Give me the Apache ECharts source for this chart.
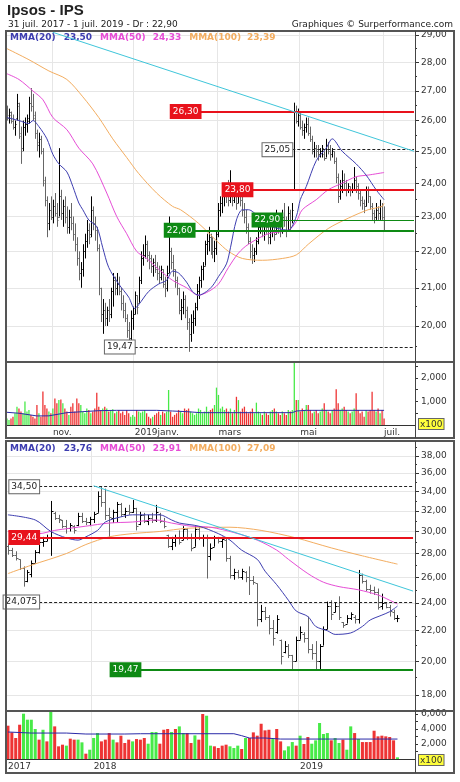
<!DOCTYPE html>
<html>
<head>
<meta charset="utf-8">
<title>Ipsos - IPS</title>
<script src="https://cdn.jsdelivr.net/npm/echarts@6.0.0/dist/echarts.min.js"></script>
<style>
  html, body { margin: 0; padding: 0; background: #fff; }
  #main { width: 460px; height: 782px; }
</style>
</head>
<body>
<div id="main"></div>
<script>
// ---------- graphique journalier (haut) ----------
var dayStart = '2018-10-01'
var dayHolidays = ['2018-12-25', '2018-12-26', '2019-01-01', '2019-04-19', '2019-04-22', '2019-05-01']
var dayCount = 190
var dayPad = 15

var dOpen = [
  26.3, 26.1, 26.2, 26.0, 25.8, 26.1, 26.5, 25.6, 25.1, 25.8,
  25.9, 26.0, 26.6, 26.5, 26.2, 25.6, 25.2, 25.4, 25.0, 24.0,
  23.5, 22.8, 23.2, 23.0, 23.3, 23.1, 23.0, 23.6, 23.1, 23.3,
  23.0, 22.7, 23.0, 22.8, 22.5, 22.2, 21.8, 21.4, 21.5, 22.0,
  22.3, 22.6, 22.5, 23.2, 22.8, 22.6, 22.1, 21.0, 20.3, 20.4,
  20.2, 20.4, 20.3, 20.9, 21.2, 21.0, 21.1, 20.9, 20.6, 20.4,
  20.2, 19.9, 19.7, 20.2, 20.3, 20.8, 20.6, 21.2, 21.8, 21.9,
  22.2, 21.9, 21.8, 21.6, 21.7, 21.5, 21.4, 21.3, 21.5, 21.1,
  21.0, 21.4, 22.0, 21.7, 21.5, 21.2, 21.0, 20.4, 20.5, 20.7,
  20.4, 20.1, 19.8, 20.1, 20.2, 20.5, 20.9, 21.2, 21.5, 21.6,
  22.2, 22.3, 22.4, 22.2, 22.0, 22.1, 22.5, 23.2, 23.4, 23.6,
  23.8, 23.6, 23.5, 23.9, 23.5, 23.7, 23.4, 23.8, 23.5, 23.2,
  23.0, 22.7, 22.3, 22.0, 21.9, 22.0, 22.3, 22.7, 22.9, 22.6,
  22.8, 22.7, 22.4, 22.6, 22.8, 22.5, 23.0, 22.7, 22.6, 23.0,
  22.9, 22.6, 23.1, 22.9, 23.8, 26.3, 26.0, 26.2, 25.8, 25.7,
  25.8, 25.9, 25.6, 25.4, 25.0, 25.1, 25.0, 24.9, 25.0, 24.9,
  24.8, 25.2, 25.0, 24.9, 25.0, 24.7, 24.2, 23.6, 23.9, 24.1,
  24.0, 23.8, 23.9, 23.8, 23.8, 24.1, 23.9, 23.7, 23.5, 23.4,
  23.3, 23.8, 23.6, 23.3, 23.1, 23.0, 23.2, 23.1, 23.3, 23.0
]
var dHigh = [
  26.5, 26.4, 26.3, 26.2, 26.0, 26.9, 26.6, 25.8, 26.0, 26.1,
  26.2, 26.8, 27.1, 26.9, 26.3, 25.7, 25.6, 25.5, 25.1, 24.2,
  23.6, 23.4, 23.6, 23.5, 23.7, 23.4, 25.1, 23.8, 23.5, 23.6,
  23.3, 23.2, 23.4, 23.0, 22.8, 22.4, 22.0, 21.7, 22.2, 22.5,
  22.9, 22.8, 23.6, 23.3, 23.0, 22.7, 22.2, 21.0, 20.7, 20.6,
  20.5, 20.7, 21.0, 21.4, 21.3, 21.4, 21.3, 21.0, 20.8, 20.6,
  20.3, 20.1, 20.4, 20.5, 20.9, 20.8, 21.3, 22.0, 22.2, 22.45,
  22.3, 22.0, 21.9, 21.8, 21.9, 21.7, 21.6, 21.6, 21.5, 21.3,
  21.6, 23.0, 22.1, 21.9, 21.5, 21.3, 21.0, 20.7, 20.9, 20.8,
  20.5, 20.2, 20.3, 20.4, 20.6, 21.1, 21.3, 21.6, 21.7, 22.3,
  22.5, 22.7, 22.5, 22.4, 22.3, 22.6, 23.4, 23.6, 23.8, 24.0,
  23.9, 24.1, 24.4, 24.0, 23.9, 23.8, 24.0, 23.9, 23.6, 23.4,
  23.2, 22.8, 22.4, 22.2, 22.1, 22.4, 22.8, 23.1, 23.0, 22.9,
  23.1, 22.9, 22.8, 23.0, 22.9, 23.2, 23.1, 22.9, 23.2, 23.4,
  23.0, 23.3, 23.2, 23.4, 26.6, 26.5, 26.4, 26.3, 26.0, 25.9,
  26.1, 26.1, 25.8, 25.5, 25.3, 25.2, 25.2, 25.1, 25.2, 25.0,
  25.4, 25.3, 25.2, 25.1, 25.0, 24.8, 24.3, 24.1, 24.4, 24.3,
  24.1, 24.0, 23.9, 24.0, 24.5, 24.2, 24.0, 23.8, 23.6, 23.5,
  23.9, 23.9, 23.6, 23.4, 23.2, 23.4, 23.3, 23.5, 23.4, 23.3
]
var dLow = [
  26.0, 25.9, 25.9, 25.7, 25.5, 26.0, 25.4, 24.6, 25.0, 25.5,
  25.6, 25.9, 26.3, 26.0, 25.4, 25.0, 24.8, 24.9, 23.9, 23.3,
  22.4, 22.6, 22.9, 22.8, 23.0, 22.7, 23.0, 22.9, 22.7, 22.8,
  22.5, 22.5, 22.6, 22.3, 22.0, 21.6, 21.2, 21.0, 21.3, 21.8,
  22.1, 22.2, 22.4, 22.6, 22.3, 22.0, 20.8, 20.1, 19.8, 20.0,
  20.0, 20.1, 20.2, 20.5, 20.8, 20.8, 20.8, 20.4, 20.2, 20.1,
  19.7, 19.47, 19.6, 19.9, 20.3, 20.3, 20.6, 21.1, 21.6, 21.8,
  21.7, 21.5, 21.4, 21.3, 21.4, 21.2, 21.1, 21.2, 21.0, 20.75,
  20.9, 21.4, 21.5, 21.3, 21.0, 20.8, 20.3, 20.15, 20.3, 20.2,
  19.9, 19.35, 19.6, 19.8, 20.0, 20.4, 20.7, 21.0, 21.2, 21.6,
  21.9, 22.0, 21.9, 21.8, 21.7, 21.9, 22.4, 23.0, 23.1, 23.3,
  23.4, 23.3, 23.4, 23.3, 23.4, 23.2, 23.4, 23.3, 23.0, 22.8,
  22.5, 22.2, 21.8, 21.65, 21.7, 21.9, 22.2, 22.5, 22.4, 22.3,
  22.5, 22.2, 22.2, 22.4, 22.3, 22.5, 22.5, 22.4, 22.5, 22.7,
  22.4, 22.6, 22.6, 22.8, 23.8, 25.9, 25.8, 25.7, 25.5, 25.4,
  25.6, 25.5, 25.3, 24.9, 24.8, 24.8, 24.7, 24.8, 24.8, 24.7,
  24.8, 24.9, 24.7, 24.8, 24.6, 24.0, 23.4, 23.5, 23.7, 23.8,
  23.6, 23.7, 23.6, 23.7, 23.8, 23.7, 23.5, 23.3, 23.2, 23.1,
  23.3, 23.4, 23.2, 22.9, 22.8, 22.9, 22.9, 22.9, 22.9, 22.6
]
var dClose = [
  26.2, 26.3, 26.0, 25.8, 25.9, 26.6, 25.5, 25.0, 25.8, 25.9,
  26.1, 26.6, 26.5, 26.1, 25.6, 25.3, 25.4, 25.0, 24.1, 23.5,
  22.8, 23.2, 23.0, 23.3, 23.1, 22.9, 23.6, 23.1, 23.3, 23.0,
  22.7, 23.0, 22.8, 22.5, 22.2, 21.8, 21.4, 21.5, 22.0, 22.3,
  22.6, 22.4, 23.2, 22.8, 22.6, 22.1, 21.0, 20.3, 20.4, 20.2,
  20.4, 20.3, 20.9, 21.2, 21.0, 21.1, 20.9, 20.6, 20.4, 20.2,
  19.9, 19.7, 20.2, 20.3, 20.8, 20.5, 21.2, 21.8, 21.9, 22.2,
  21.9, 21.8, 21.6, 21.7, 21.5, 21.4, 21.3, 21.5, 21.1, 21.0,
  21.4, 22.0, 21.7, 21.5, 21.2, 21.0, 20.4, 20.5, 20.7, 20.4,
  20.1, 19.8, 20.1, 20.2, 20.5, 20.9, 21.2, 21.5, 21.6, 22.2,
  22.3, 22.4, 22.2, 22.0, 22.1, 22.5, 23.2, 23.4, 23.6, 23.8,
  23.6, 23.5, 23.9, 23.5, 23.7, 23.4, 23.8, 23.5, 23.2, 23.0,
  22.7, 22.3, 22.0, 21.9, 22.0, 22.3, 22.7, 22.9, 22.6, 22.8,
  22.7, 22.4, 22.6, 22.8, 22.5, 23.0, 22.7, 22.6, 23.0, 22.9,
  22.6, 23.1, 22.9, 23.2, 26.3, 26.0, 26.2, 25.8, 25.7, 25.8,
  25.9, 25.6, 25.4, 25.0, 25.1, 25.0, 24.9, 25.0, 25.1, 24.8,
  25.2, 25.0, 24.9, 25.0, 24.7, 24.2, 23.6, 23.9, 24.1, 24.0,
  23.8, 23.9, 23.8, 23.8, 24.1, 23.9, 23.7, 23.5, 23.4, 23.3,
  23.8, 23.6, 23.3, 23.1, 23.0, 23.2, 23.1, 23.3, 23.0, 22.9
]
// volumes journaliers (x100)
var dVolume = [
  280, 210, 280, 350, 500, 780, 700, 570, 500, 1000,
  570, 640, 430, 350, 280, 850, 500, 350, 1420, 850,
  700, 570, 500, 700, 1130, 920, 1060, 1090, 920, 700,
  570, 430, 780, 920, 570, 1130, 920, 850, 570, 500,
  700, 640, 500, 570, 700, 1375, 780, 640, 700, 780,
  700, 570, 640, 670, 500, 570, 640, 500, 570, 430,
  640, 500, 350, 430, 350, 640, 570, 520, 570, 640,
  500, 350, 280, 350, 430, 500, 570, 430, 570, 500,
  570, 1490, 570, 350, 430, 500, 640, 570, 500, 700,
  640, 700, 570, 500, 430, 500, 700, 640, 500, 570,
  780, 570, 640, 700, 850, 1590, 1280, 700, 780, 640,
  700, 570, 700, 500, 640, 1200, 1060, 570, 700, 780,
  570, 500, 570, 700, 500, 950, 570, 500, 430, 570,
  500, 430, 570, 640, 700, 570, 500, 430, 570, 500,
  430, 640, 570, 640, 2666, 1060, 1060, 570, 700, 640,
  850, 850, 640, 500, 570, 640, 500, 570, 700, 920,
  640, 570, 500, 640, 700, 1517, 920, 640, 700, 780,
  640, 570, 500, 570, 700, 1347, 640, 500, 570, 350,
  640, 570, 640, 1418, 640, 570, 700, 500, 640, 280
]
var dVolMa = [[0, 540], [6, 500], [15, 385], [21, 390], [30, 525], [38, 567], [46, 610], [55, 624], [75, 624],
  [83, 595], [90, 567], [97, 525], [143, 525], [145, 595], [150, 624], [189, 624]]
var dMma20 = [[0, 26.1], [6, 26.0], [11, 25.9], [13, 26.0], [16, 25.8], [20, 25.4], [23, 24.9], [26, 24.6],
  [30, 24.35], [33, 23.9], [36, 23.4], [38, 23.2], [41, 22.9], [45, 22.7], [48, 22.1], [51, 21.55], [56, 21.1],
  [61, 20.75], [64, 20.45], [66, 20.55], [71, 20.9], [76, 21.1], [80, 21.2], [83, 21.45], [86, 21.4], [90, 21.15],
  [93, 20.9], [96, 20.8], [100, 20.9], [103, 21.05], [106, 21.3], [110, 21.65], [112, 22.1], [115, 22.9],
  [118, 23.2], [121, 23.2], [126, 23.0], [131, 22.75], [136, 22.65], [141, 22.6], [145, 23.0], [147, 23.5],
  [150, 23.9], [155, 24.7], [160, 25.1], [163, 25.4], [168, 25.0], [175, 24.6], [180, 24.25], [185, 23.8], [189, 23.5]]
var dMma50 = [[0, 27.6], [6, 27.4], [13, 27.0], [18, 26.7], [23, 26.1], [30, 25.7], [36, 25.1], [43, 24.6],
  [50, 23.7], [55, 23.0], [60, 22.5], [65, 22.0], [70, 21.8], [76, 21.5], [83, 21.2], [90, 21.0], [96, 20.8],
  [101, 20.9], [106, 21.1], [111, 21.55], [116, 21.95], [121, 22.2], [131, 22.5], [141, 22.6], [145, 22.85],
  [148, 23.2], [155, 23.5], [161, 23.8], [168, 24.0], [175, 24.2], [181, 24.25], [189, 24.33]]
var dMma100 = [[0, 28.5], [11, 28.1], [21, 27.7], [30, 27.4], [38, 26.8], [46, 26.1], [53, 25.4], [60, 24.8],
  [66, 24.3], [75, 23.7], [83, 23.3], [87, 23.2], [96, 22.8], [105, 22.3], [111, 22.0], [118, 21.8], [128, 21.75],
  [138, 21.8], [145, 21.9], [151, 22.2], [161, 22.65], [171, 22.95], [181, 23.2], [188, 23.3], [189, 23.39]]
var dTrend = [[23, 29.1], [204, 25.0]]
var dLevelValues = [26.30, 23.80, 22.60, 22.90, 25.05, 19.47]
var dLevelStart = [97, 123, 94, 138, 143, 64]
var dPriceLabels = [20, 21, 22, 23, 24, 25, 26, 27, 28, 29]
var dPriceMinor = [19.5, 20.5, 21.5, 22.5, 23.5, 24.5, 25.5, 26.5, 27.5, 28.5]
var dVolLabels = [1000, 2000]
var dVolTicks = [500, 1000, 1500, 2000, 2500]

// ---------- graphique hebdomadaire (bas) ----------
var weekStart = '2017-07-31'
var weekCount = 101
var weekPad = 4

var wOpen = [
  28.7, 28.3, 27.9, 27.5, 26.8, 25.7, 26.3, 27.2, 28.1, 29.0,
  29.1, 29.5, 31.8, 31.3, 31.1, 30.5, 30.3, 30.5, 30.6, 31.5,
  31.0, 30.9, 31.2, 31.8, 33.5, 32.9, 31.6, 31.3, 31.9, 32.7,
  31.7, 32.0, 31.9, 32.3, 30.7, 31.6, 31.0, 31.3, 31.1, 31.7,
  31.0, 29.7, 28.7, 29.0, 29.4, 29.2, 30.2, 29.5, 28.6, 30.2,
  29.4, 29.4, 27.8, 28.6, 29.4, 29.1, 29.2, 27.6, 26.2, 26.4,
  26.0, 26.4, 26.0, 25.8, 25.5, 22.8, 23.4, 23.0, 22.2, 21.9,
  21.4, 20.6, 21.0, 20.4, 20.0, 21.4, 21.8, 21.5, 20.8, 20.5,
  20.0, 21.0, 22.1, 23.8, 23.3, 23.8, 22.6, 22.5, 22.9, 23.0,
  22.8, 26.2, 25.7, 25.1, 25.0, 24.8, 23.8, 24.0, 23.7, 23.3,
  22.9
]
var wHigh = [
  28.9, 28.5, 28.2, 27.5, 26.9, 26.6, 27.4, 28.3, 29.2, 29.5,
  29.7, 33.0, 31.9, 31.6, 31.1, 31.1, 30.8, 30.6, 31.8, 31.8,
  31.3, 31.4, 31.9, 34.0, 34.5, 34.3, 32.3, 32.1, 32.9, 32.8,
  32.3, 32.6, 33.1, 32.3, 31.9, 31.8, 31.6, 31.8, 32.6, 31.8,
  31.3, 29.7, 29.5, 29.7, 30.1, 30.5, 30.3, 29.8, 30.5, 30.5,
  29.7, 29.7, 28.9, 29.6, 29.5, 29.5, 29.4, 27.8, 26.7, 26.6,
  26.7, 26.5, 26.9, 26.1, 25.5, 23.85, 23.7, 23.1, 22.75, 23.1,
  21.4, 21.3, 21.1, 20.4, 21.6, 22.3, 21.9, 23.0, 21.1, 21.3,
  21.1, 22.3, 24.1, 24.2, 24.0, 24.5, 22.6, 23.1, 23.3, 23.1,
  26.6, 26.3, 25.8, 25.4, 25.25, 25.1, 24.7, 24.0, 23.85, 23.5,
  23.1
]
var wLow = [
  27.9, 27.7, 27.4, 26.6, 25.25, 25.6, 26.0, 27.2, 28.0, 28.6,
  29.1, 27.8, 31.1, 30.8, 30.3, 29.8, 30.0, 29.8, 30.5, 30.8,
  30.6, 30.5, 30.8, 31.8, 32.4, 31.1, 29.44, 30.8, 30.9, 31.4,
  31.3, 31.6, 31.8, 30.1, 30.6, 30.8, 30.6, 30.8, 30.9, 30.8,
  30.3, 28.5, 28.3, 28.6, 28.8, 29.2, 29.2, 28.2, 28.6, 29.2,
  28.6, 25.9, 27.4, 28.6, 28.9, 28.5, 27.3, 25.9, 25.8, 25.9,
  25.8, 25.6, 24.6, 25.4, 22.3, 22.6, 22.75, 21.75, 21.0, 21.8,
  19.8, 20.5, 20.2, 19.47, 20.0, 21.4, 21.2, 20.5, 20.1, 19.4,
  19.5, 21.0, 22.1, 22.75, 23.3, 22.75, 22.2, 22.5, 22.75, 22.5,
  22.5, 25.5, 24.9, 24.7, 24.6, 23.5, 23.5, 23.6, 23.0, 22.75,
  22.6
]
var wClose = [
  28.3, 27.9, 27.6, 26.8, 25.7, 26.4, 27.2, 28.1, 29.0, 29.1,
  29.5, 32.0, 31.3, 31.2, 30.5, 30.3, 30.6, 30.1, 31.5, 31.0,
  30.9, 31.2, 31.7, 33.5, 32.9, 31.6, 31.4, 31.9, 32.7, 31.7,
  32.0, 31.9, 32.3, 30.5, 31.6, 31.0, 31.3, 31.1, 31.9, 31.0,
  30.5, 28.7, 29.0, 29.4, 29.0, 30.2, 29.5, 28.5, 30.2, 29.4,
  29.4, 27.8, 28.5, 29.4, 29.1, 29.3, 27.6, 26.2, 26.4, 26.0,
  26.5, 26.0, 25.8, 25.6, 22.8, 23.4, 23.0, 22.2, 21.5, 22.8,
  20.3, 21.0, 20.4, 20.0, 21.4, 21.9, 21.5, 20.8, 20.5, 20.0,
  21.0, 22.1, 23.8, 23.2, 23.8, 23.0, 22.4, 22.9, 23.2, 22.8,
  26.2, 25.7, 25.1, 25.0, 24.8, 23.7, 24.0, 23.7, 23.4, 22.9,
  22.9
]
// volumes hebdo (x100) et sens de la semaine (1 = hausse)
var wVolume = [
  4440, 3550, 2800, 4570, 6040, 5240, 5240, 4000, 2580, 3900,
  2350, 6350, 4350, 1690, 1910, 1780, 2710, 2580, 2580, 2220,
  710, 1240, 2800, 3460, 2350, 2580, 3460, 2580, 2220, 3110,
  2130, 2580, 2350, 2660, 2580, 2800, 2040, 3600, 3600, 2040,
  3900, 4000, 3600, 4000, 4350, 3460, 3460, 2130, 3150, 2580,
  6000, 5770, 1780, 1690, 1470, 1780, 1910, 1690, 1470, 1780,
  1330, 2800, 2800, 3550, 3110, 4700, 3820, 3900, 2660, 4000,
  2350, 1150, 1690, 2260, 1780, 3110, 2000, 2930, 2040, 2490,
  4800, 3330, 3460, 2490, 2800, 2130, 2580, 1240, 4350, 3460,
  2660, 2260, 2260, 2260, 3770, 3020, 3110, 3020, 2930, 2490,
  220
]
var wVolUp = [
  0, 0, 0, 0, 1, 1, 1, 1, 0, 1,
  0, 1, 0, 0, 0, 1, 0, 0, 1, 1,
  0, 1, 1, 1, 0, 0, 0, 1, 0, 0,
  0, 0, 1, 0, 0, 0, 1, 1, 1, 0,
  0, 0, 1, 0, 1, 1, 0, 0, 1, 0,
  0, 1, 1, 0, 0, 0, 0, 1, 1, 1,
  0, 1, 0, 0, 0, 0, 0, 0, 1, 0,
  0, 1, 1, 1, 0, 1, 0, 0, 1, 1,
  1, 1, 1, 0, 1, 1, 0, 1, 1, 0,
  1, 0, 0, 0, 0, 0, 0, 0, 0, 0,
  1
]
var wVolMa = [[0, 3600], [6, 3460], [15, 3460], [20, 3330], [30, 3330], [34, 3370], [58, 3370], [60, 3110],
  [62, 2800], [66, 2800], [70, 2660], [100, 2660]]
var wMma20 = [[0, 31.6], [7, 31.1], [11, 30.0], [15, 29.4], [18, 29.2], [20, 29.5], [23, 30.1], [25, 30.9],
  [29, 31.4], [32, 31.6], [39, 31.6], [42, 31.1], [44, 30.8], [49, 30.5], [54, 29.8], [57, 29.2], [60, 28.3],
  [64, 27.5], [66, 26.5], [69, 25.4], [72, 24.2], [74, 23.4], [77, 23.0], [79, 22.3], [82, 22.0], [84, 21.75],
  [88, 21.85], [91, 22.3], [93, 22.75], [96, 23.1], [98, 23.35], [100, 23.76]]
var wMma50 = [[0, 30.0], [8, 29.8], [12, 30.1], [20, 30.5], [26, 30.8], [32, 30.9], [38, 31.1], [42, 30.8],
  [47, 30.5], [52, 30.4], [58, 29.9], [64, 29.2], [69, 28.3], [72, 27.5], [77, 26.3], [81, 25.6], [85, 25.25],
  [90, 25.0], [95, 24.6], [98, 24.2], [100, 23.91]]
var wMma100 = [[0, 26.3], [6, 27.0], [15, 28.0], [20, 28.8], [26, 29.5], [32, 29.8], [39, 30.0], [46, 30.3],
  [57, 30.4], [65, 30.1], [74, 29.4], [83, 28.5], [91, 27.8], [100, 27.09]]
var wTrend = [[22, 34.6], [104, 24.9]]
var wLevelValues = [29.44, 34.50, 24.075, 19.47]
var wLevelStart = [8, 8, 8, 34]
var wPriceLabels = [18, 20, 22, 24, 26, 28, 30, 32, 34, 36, 38]
var wPriceMinor = [19, 21, 23, 25, 27, 29, 31, 33, 35, 37, 39]
var wVolLabels = [2000, 4000, 6000]
var wVolTicks = [1000, 2000, 3000, 4000, 5000, 6000]

// ---------- styles ----------
var fontFam = '"DejaVu Sans", Verdana, sans-serif'
var c20 = '#3d3db0', c50 = '#e64dd6', c100 = '#f3ad60', cTrend = '#3fc6da'
var cRed = '#e8121c', cGreen = '#0e8a14'
var cVolUp = '#48ea48', cVolDown = '#ee3434'
var gridColor = '#e6e6e6', axisColor = '#333'
var moisFr = ['janv.', 'févr.', 'mars', 'avr.', 'mai', 'juin', 'juil.', 'août', 'sept.', 'oct.', 'nov.', 'déc.']

function fr(v) {
  var s = Math.abs(v * 100 - Math.round(v * 100)) < 1e-6 ? v.toFixed(2) : v.toFixed(3)
  return s.replace('.', ',')
}

// jours de bourse / semaines
function tradingDays(start, count, holidays) {
  var out = []
  var d = new Date(start + 'T00:00:00Z')
  while (out.length < count) {
    var s = d.toISOString().slice(0, 10)
    var wd = d.getUTCDay()
    if (wd !== 0 && wd !== 6 && holidays.indexOf(s) < 0) out.push(s)
    d.setUTCDate(d.getUTCDate() + 1)
  }
  return out
}
function weeks(start, count) {
  var out = []
  var d = new Date(start + 'T00:00:00Z')
  for (var k = 0; k < count; k++) {
    out.push(d.toISOString().slice(0, 10))
    d.setUTCDate(d.getUTCDate() + 7)
  }
  return out
}
var dCats = tradingDays(dayStart, dayCount, dayHolidays)
var wCats = weeks(weekStart, weekCount)

// un libellé tous les deux mois (nov., janv., mars...)
var dLabelAt = dCats.map(function (s, k) {
  var m = +s.slice(5, 7) - 1
  var prev = k > 0 ? +dCats[k - 1].slice(5, 7) - 1 : -1
  return m !== prev && m % 2 === 0 && k > 0
})
var wLabelAt = wCats.map(function (s, k) {
  return k === 0 || s.slice(0, 4) !== wCats[k - 1].slice(0, 4)
})
for (var p = 0; p < dayPad; p++) { dCats.push('pad' + p); dLabelAt.push(false) }
for (var q = 0; q < weekPad; q++) { wCats.push('pad' + q); wLabelAt.push(false) }

function dInterval(index) { return !!dLabelAt[index] }
function wInterval(index) { return !!wLabelAt[index] }
function dLabel(value) {
  var m = +value.slice(5, 7) - 1
  return m === 0 ? value.slice(0, 4) + 'janv.' : moisFr[m]
}
function wLabel(value) { return value.slice(0, 4) }

function ohlc(open, high, low, close) {
  return open.map(function (o, k) { return [k, o, high[k], low[k], close[k]] })
}

// barre OHLC : trait haut-bas, tiret gauche = ouverture, tiret droit = cloture
function ohlcBar(params, api) {
  var i = api.value(0)
  var o = api.coord([i, api.value(1)])
  var h = api.coord([i, api.value(2)])
  var l = api.coord([i, api.value(3)])
  var c = api.coord([i, api.value(4)])
  var nx = api.coord([i + 1, api.value(4)])
  var half = Math.max(1, Math.round((nx[0] - c[0]) * 0.45))
  var x = Math.round(c[0]) + 0.5
  var col = api.value(4) >= api.value(1) ? '#000' : '#666'
  var yo = Math.round(o[1]) + 0.5, yc = Math.round(c[1]) + 0.5
  return {
    type: 'group',
    children: [
      { type: 'line', shape: { x1: x, y1: h[1], x2: x, y2: l[1] }, style: { stroke: col, lineWidth: 1 } },
      { type: 'line', shape: { x1: x - half, y1: yo, x2: x, y2: yo }, style: { stroke: col, lineWidth: 1 } },
      { type: 'line', shape: { x1: x, y1: yc, x2: x + half, y2: yc }, style: { stroke: col, lineWidth: 1 } }
    ]
  }
}

function levelLine(start, end, v, kind) {
  var color = kind === 'red' ? cRed : (kind === 'dash' ? '#222' : cGreen)
  var label = {
    show: true, position: 'start', distance: 0, formatter: fr(v),
    fontFamily: fontFam, fontSize: 9, lineHeight: 10, padding: [2, 2, 1, 2],
    color: kind === 'dash' ? '#222' : '#fff',
    backgroundColor: kind === 'dash' ? '#fff' : color,
    borderColor: kind === 'dash' ? '#666' : color, borderWidth: 1
  }
  return [{
    coord: [start, v],
    lineStyle: { color: color, width: (kind === 'red' || kind === 'green') ? 2 : 1, type: kind === 'dash' ? [3, 2] : 'solid' },
    label: label
  }, { coord: [end, v] }]
}

var dKinds = ['red', 'red', 'green', 'greenThin', 'dash', 'dash']
var wKinds = ['red', 'dash', 'dash', 'green']
var dLines = dLevelValues.map(function (v, k) { return levelLine(dLevelStart[k], dCats.length - 1, v, dKinds[k]) })
var wLines = wLevelValues.map(function (v, k) { return levelLine(wLevelStart[k], wCats.length - 1, v, wKinds[k]) })

function maLine(name, data, color, xi, yi) {
  return {
    name: name, type: 'line', data: data, xAxisIndex: xi, yAxisIndex: yi,
    symbol: 'none', smooth: 0.3, silent: true, z: 4,
    lineStyle: { color: color, width: 1 }
  }
}

function legendText(a, b, c) {
  return '{a|MMA(20)}{av|' + fr(a) + '}{b|MMA(50)}{bv|' + fr(b) + '}{c|MMA(100)}{cv|' + fr(c) + '}'
}
var legendRich = {
  a: { color: c20, fontSize: 9, fontFamily: fontFam },
  av: { color: c20, fontSize: 9, fontFamily: fontFam, padding: [0, 0, 0, 8] },
  b: { color: c50, fontSize: 9, fontFamily: fontFam, padding: [0, 0, 0, 8] },
  bv: { color: c50, fontSize: 9, fontFamily: fontFam, padding: [0, 0, 0, 7] },
  c: { color: c100, fontSize: 9, fontFamily: fontFam, padding: [0, 0, 0, 8] },
  cv: { color: c100, fontSize: 9, fontFamily: fontFam, padding: [0, 0, 0, 6] }
}
function last(arr) { return arr[arr.length - 1][1] }

function priceAxis(grid, min, max, labels) {
  return {
    type: 'log', logBase: 10, gridIndex: grid, position: 'right', min: min, max: max,
    axisLine: { show: false },
    axisTick: { show: true, customValues: labels, length: 4, lineStyle: { color: axisColor } },
    axisLabel: { customValues: labels, formatter: function (v) { return fr(v) }, color: axisColor, fontSize: 9, fontFamily: fontFam, margin: 6 },
    splitLine: { show: true, lineStyle: { color: gridColor } }
  }
}
function minorAxis(grid, type, min, max, ticks) {
  return {
    type: type, logBase: 10, gridIndex: grid, position: 'right', min: min, max: max,
    axisLine: { show: false }, axisLabel: { show: false }, splitLine: { show: false },
    axisTick: { show: true, customValues: ticks, length: 2, lineStyle: { color: axisColor } }
  }
}
function volAxis(grid, max, labels, ticks) {
  return {
    type: 'value', gridIndex: grid, position: 'right', min: 0, max: max,
    axisLine: { show: false },
    axisTick: { show: true, customValues: ticks, length: 3, lineStyle: { color: axisColor } },
    axisLabel: { customValues: labels, color: axisColor, fontSize: 9, fontFamily: fontFam, margin: 6 },
    splitLine: { show: false }
  }
}
function catAxis(grid, cats, interval, formatter, showLabels) {
  return {
    type: 'category', gridIndex: grid, data: cats, boundaryGap: true,
    axisLine: { show: showLabels, lineStyle: { color: axisColor, width: 1 } },
    axisTick: { show: false },
    axisLabel: showLabels ? { show: true, interval: interval, formatter: formatter, align: 'left', color: axisColor, fontSize: 9, fontFamily: fontFam, margin: 3 } : { show: false },
    splitLine: { show: true, interval: interval, lineStyle: { color: gridColor } }
  }
}

var myChart = echarts.init(document.getElementById('main'))

var option = {
  backgroundColor: '#fff',
  animation: false,
  textStyle: { fontFamily: fontFam },
  title: [
    { text: 'Ipsos - IPS', left: 7, top: 3, padding: 0, textStyle: { fontFamily: '"Liberation Sans", Arial, sans-serif', fontSize: 15, fontWeight: 'bold', color: '#222' } },
    { text: '31 juil. 2017 - 1 juil. 2019 - Dr : ' + fr(dClose[dClose.length - 1]), left: 8, top: 20, padding: 0, textStyle: { fontFamily: fontFam, fontSize: 9, fontWeight: 'normal', color: '#222' } },
    { text: 'Graphiques © Surperformance.com', right: 7, top: 20, padding: 0, textStyle: { fontFamily: fontFam, fontSize: 9, fontWeight: 'normal', color: '#222' } },
    { text: legendText(last(dMma20), last(dMma50), last(dMma100)), left: 10, top: 33, padding: 0, textStyle: { rich: legendRich } },
    { text: legendText(last(wMma20), last(wMma50), last(wMma100)), left: 10, top: 444, padding: 0, textStyle: { rich: legendRich } }
  ],
  grid: [
    { left: 6, right: 45, top: 31, height: 331, outerBoundsMode: 'none' },
    { left: 6, right: 45, top: 362, height: 63, outerBoundsMode: 'none' },
    { left: 6, right: 45, top: 441, height: 270, outerBoundsMode: 'none' },
    { left: 6, right: 45, top: 711, height: 48, outerBoundsMode: 'none' }
  ],
  xAxis: [
    catAxis(0, dCats, dInterval, dLabel, false),
    catAxis(1, dCats, dInterval, dLabel, true),
    catAxis(2, wCats, wInterval, wLabel, false),
    catAxis(3, wCats, wInterval, wLabel, true)
  ],
  yAxis: [
    priceAxis(0, 19.1, 29.15, dPriceLabels),
    minorAxis(0, 'log', 19.1, 29.15, dPriceMinor),
    volAxis(1, 2680, dVolLabels, dVolTicks),
    priceAxis(2, 17.12, 39.8, wPriceLabels),
    minorAxis(2, 'log', 17.12, 39.8, wPriceMinor),
    volAxis(3, 6400, wVolLabels, wVolTicks)
  ],
  series: [
    // journalier
    { name: 'cours', type: 'custom', xAxisIndex: 0, yAxisIndex: 0, renderItem: ohlcBar, data: ohlc(dOpen, dHigh, dLow, dClose), encode: { x: 0, y: [1, 2, 3, 4] }, silent: true, clip: true, z: 2 },
    maLine('MMA100', dMma100, c100, 0, 0),
    maLine('MMA50', dMma50, c50, 0, 0),
    maLine('MMA20', dMma20, c20, 0, 0),
    {
      name: 'tendance', type: 'line', data: dTrend, xAxisIndex: 0, yAxisIndex: 0, symbol: 'none', silent: true, z: 6,
      lineStyle: { color: cTrend, width: 1 },
      markLine: { symbol: ['none', 'none'], silent: true, animation: false, data: dLines }
    },
    {
      name: 'volume', type: 'bar', xAxisIndex: 1, yAxisIndex: 2, barCategoryGap: '35%', silent: true,
      data: dVolume.map(function (v, k) {
        var up = k === 0 || dClose[k] >= dClose[k - 1]
        return { value: v, itemStyle: { color: up ? cVolUp : cVolDown } }
      })
    },
    { name: 'volMoy', type: 'line', data: dVolMa, xAxisIndex: 1, yAxisIndex: 2, symbol: 'none', silent: true, lineStyle: { color: '#2a2aa8', width: 1 }, z: 4 },
    // hebdomadaire
    { name: 'coursH', type: 'custom', xAxisIndex: 2, yAxisIndex: 3, renderItem: ohlcBar, data: ohlc(wOpen, wHigh, wLow, wClose), encode: { x: 0, y: [1, 2, 3, 4] }, silent: true, clip: true, z: 2 },
    maLine('MMA100h', wMma100, c100, 2, 3),
    maLine('MMA50h', wMma50, c50, 2, 3),
    maLine('MMA20h', wMma20, c20, 2, 3),
    {
      name: 'tendanceH', type: 'line', data: wTrend, xAxisIndex: 2, yAxisIndex: 3, symbol: 'none', silent: true, z: 6,
      lineStyle: { color: cTrend, width: 1 },
      markLine: { symbol: ['none', 'none'], silent: true, animation: false, data: wLines }
    },
    {
      name: 'volumeH', type: 'bar', xAxisIndex: 3, yAxisIndex: 5, barCategoryGap: '22%', silent: true,
      data: wVolume.map(function (v, k) {
        return { value: v, itemStyle: { color: wVolUp[k] ? cVolUp : cVolDown } }
      })
    },
    { name: 'volMoyH', type: 'line', data: wVolMa, xAxisIndex: 3, yAxisIndex: 5, symbol: 'none', silent: true, lineStyle: { color: '#2a2aa8', width: 1 }, z: 4 }
  ],
  graphic: [
    // cadres et séparateurs
    { type: 'rect', z: 100, silent: true, shape: { x: 6, y: 31, width: 448, height: 407 }, style: { fill: 'none', stroke: '#555', lineWidth: 2 } },
    { type: 'line', z: 100, silent: true, shape: { x1: 6, y1: 362, x2: 454, y2: 362 }, style: { stroke: '#555', lineWidth: 2 } },
    { type: 'line', z: 100, silent: true, shape: { x1: 415.5, y1: 31, x2: 415.5, y2: 438 }, style: { stroke: '#444', lineWidth: 1 } },
    { type: 'rect', z: 100, silent: true, shape: { x: 6, y: 441, width: 448, height: 332 }, style: { fill: 'none', stroke: '#555', lineWidth: 2 } },
    { type: 'line', z: 100, silent: true, shape: { x1: 6, y1: 711, x2: 454, y2: 711 }, style: { stroke: '#555', lineWidth: 2 } },
    { type: 'line', z: 100, silent: true, shape: { x1: 415.5, y1: 441, x2: 415.5, y2: 773 }, style: { stroke: '#444', lineWidth: 1 } },
    { type: 'text', z: 100, silent: true, left: 418, top: 418, style: { text: 'x100', fontFamily: fontFam, fontSize: 9, fill: '#333', backgroundColor: '#ffff3c', borderColor: '#666', borderWidth: 1, padding: [1, 1, 0, 1] } },
    { type: 'text', z: 100, silent: true, left: 418, top: 754, style: { text: 'x100', fontFamily: fontFam, fontSize: 9, fill: '#333', backgroundColor: '#ffff3c', borderColor: '#666', borderWidth: 1, padding: [1, 1, 0, 1] } }
  ]
}

myChart.setOption(option)
</script>
</body>
</html>
